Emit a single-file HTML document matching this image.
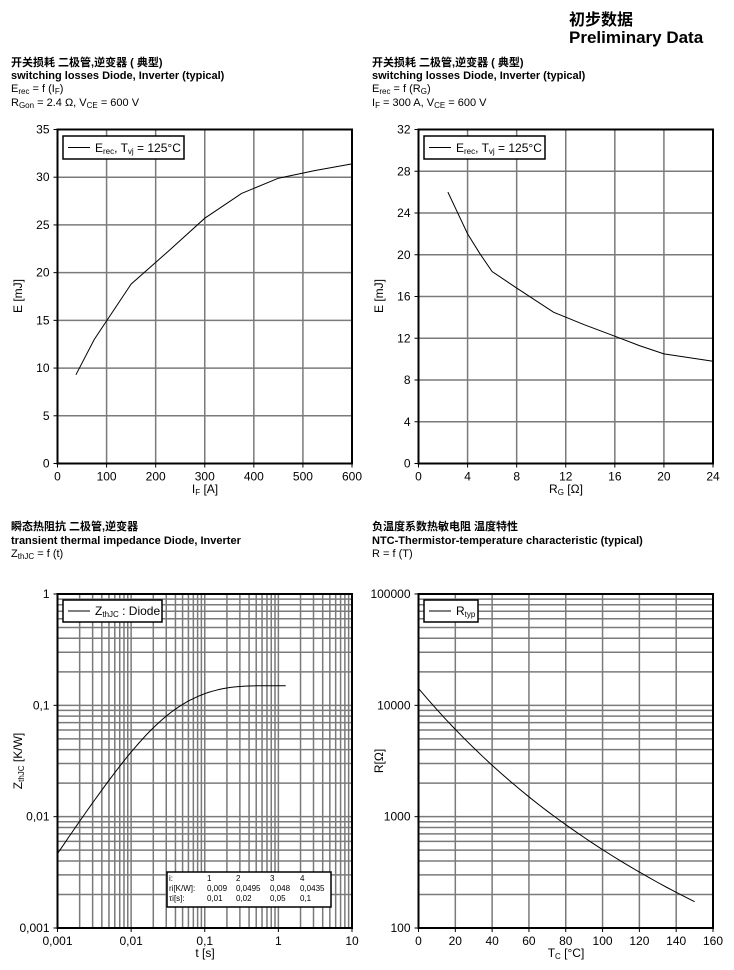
<!DOCTYPE html>
<html><head><meta charset="utf-8">
<style>
html,body{margin:0;padding:0;background:#fff;}
body{width:734px;height:965px;overflow:hidden;}
svg text{font-family:"Liberation Sans","Noto Sans CJK SC",sans-serif;fill:#000;}
</style></head><body>
<svg id="s" width="734" height="965" xmlns="http://www.w3.org/2000/svg">
<text x="569" y="25" font-size="16" font-weight="bold">初步数据</text>
<text x="569" y="43" font-size="17" font-weight="bold">Preliminary Data</text>

<g font-size="11">
<text x="11" y="66" font-weight="bold">开关损耗 二极管,逆变器 ( 典型)</text>
<text x="11" y="79" font-weight="bold">switching losses  Diode, Inverter (typical)</text>
<text x="11" y="92">E<tspan font-size="8" dy="2">rec</tspan><tspan dy="-2"> = f (I</tspan><tspan font-size="8" dy="2">F</tspan><tspan dy="-2">)</tspan></text>
<text x="11" y="106">R<tspan font-size="8" dy="2">Gon</tspan><tspan dy="-2"> = 2.4 Ω, V</tspan><tspan font-size="8" dy="2">CE</tspan><tspan dy="-2"> = 600 V</tspan></text>

<text x="372" y="66" font-weight="bold">开关损耗 二极管,逆变器 ( 典型)</text>
<text x="372" y="79" font-weight="bold">switching losses  Diode, Inverter (typical)</text>
<text x="372" y="92">E<tspan font-size="8" dy="2">rec</tspan><tspan dy="-2"> = f (R</tspan><tspan font-size="8" dy="2">G</tspan><tspan dy="-2">)</tspan></text>
<text x="372" y="106">I<tspan font-size="8" dy="2">F</tspan><tspan dy="-2"> = 300 A, V</tspan><tspan font-size="8" dy="2">CE</tspan><tspan dy="-2"> = 600 V</tspan></text>

<text x="11" y="530" font-weight="bold">瞬态热阻抗 二极管,逆变器</text>
<text x="11" y="544" font-weight="bold">transient thermal impedance  Diode, Inverter</text>
<text x="11" y="557">Z<tspan font-size="8" dy="2">thJC</tspan><tspan dy="-2"> = f (t)</tspan></text>

<text x="372" y="530" font-weight="bold">负温度系数热敏电阻 温度特性</text>
<text x="372" y="544" font-weight="bold">NTC-Thermistor-temperature characteristic (typical)</text>
<text x="372" y="557">R = f (T)</text>
</g>
<g id="g"></g>
</svg>
<script>
var g=document.getElementById('g'),h='';
function L(x1,y1,x2,y2,c,w){h+='<line x1="'+x1+'" y1="'+y1+'" x2="'+x2+'" y2="'+y2+'" stroke="'+c+'" stroke-width="'+w+'"/>';}
function T(x,y,s,a,extra){h+='<text x="'+x+'" y="'+y+'" font-size="12" text-anchor="'+(a||'middle')+'" '+(extra||'')+'>'+s+'</text>';}
function frame(x0,y0,x1,y1){h+='<rect x="'+x0+'" y="'+y0+'" width="'+(x1-x0)+'" height="'+(y1-y0)+'" fill="none" stroke="#000" stroke-width="2"/>';}
function path(pts){h+='<polyline fill="none" stroke="#000" stroke-width="1" points="'+pts.map(p=>p[0].toFixed(1)+','+p[1].toFixed(1)).join(' ')+'"/>';}
var GC='#7a7a7a';
// TL
(function(){var x0=57.5,x1=352,y0=129.5,y1=463.5;
 var X=v=>x0+(x1-x0)*v/600,Y=v=>y1-(y1-y0)*v/35;
 for(var i=1;i<6;i++)L(X(i*100),y0,X(i*100),y1,GC,1.5);
 for(var i=1;i<7;i++)L(x0,Y(i*5),x1,Y(i*5),GC,1.5);
 frame(x0,y0,x1,y1);
 for(var i=0;i<=6;i++){L(X(i*100),y1,X(i*100),y1+4,'#000',1);T(X(i*100),y1+17,i*100);}
 for(var i=0;i<=7;i++){L(x0-4,Y(i*5),x0,Y(i*5),'#000',1);T(x0-8,Y(i*5)+4,i*5,'end');}
 var d=[[37.5,9.3],[75,13],[150,18.8],[225,22.2],[300,25.7],[375,28.3],[450,29.9],[525,30.7],[600,31.4]];
 path(d.map(p=>[X(p[0]),Y(p[1])]));
 T(205,493,'I<tspan font-size="8" dy="2">F</tspan><tspan dy="-2"> [A]</tspan>');
 T(22,296,'E [mJ]','middle','transform="rotate(-90 22 296)"');
 h+='<rect x="63" y="136" width="121" height="23" fill="#fff" stroke="#000" stroke-width="1.5"/>';
 L(68,147.5,90,147.5,'#000',1);
 h+='<text x="95" y="152" font-size="12">E<tspan font-size="8" dy="2">rec</tspan><tspan dy="-2">, T</tspan><tspan font-size="8" dy="2">vj</tspan><tspan dy="-2"> = 125°C</tspan></text>';
})();
// TR
(function(){var x0=418.5,x1=713,y0=129.5,y1=463.5;
 var X=v=>x0+(x1-x0)*v/24,Y=v=>y1-(y1-y0)*v/32;
 for(var i=1;i<6;i++)L(X(i*4),y0,X(i*4),y1,GC,1.5);
 for(var i=1;i<8;i++)L(x0,Y(i*4),x1,Y(i*4),GC,1.5);
 frame(x0,y0,x1,y1);
 for(var i=0;i<=6;i++){L(X(i*4),y1,X(i*4),y1+4,'#000',1);T(X(i*4),y1+17,i*4);}
 for(var i=0;i<=8;i++){L(x0-4,Y(i*4),x0,Y(i*4),'#000',1);T(x0-8,Y(i*4)+4,i*4,'end');}
 var d=[[2.4,26],[3,24.5],[4,22],[5,20.1],[6,18.4],[8,16.8],[11,14.5],[13.5,13.3],[16,12.2],[18,11.3],[20,10.5],[24,9.8]];
 path(d.map(p=>[X(p[0]),Y(p[1])]));
 T(566,493,'R<tspan font-size="8" dy="2">G</tspan><tspan dy="-2"> [Ω]</tspan>');
 T(383,296,'E [mJ]','middle','transform="rotate(-90 383 296)"');
 h+='<rect x="424" y="136" width="121" height="23" fill="#fff" stroke="#000" stroke-width="1.5"/>';
 L(429,147.5,451,147.5,'#000',1);
 h+='<text x="456" y="152" font-size="12">E<tspan font-size="8" dy="2">rec</tspan><tspan dy="-2">, T</tspan><tspan font-size="8" dy="2">vj</tspan><tspan dy="-2"> = 125°C</tspan></text>';
})();
// BL
(function(){var x0=57.5,x1=352,y0=594,y1=928;
 var X=v=>x0+(x1-x0)*(Math.log10(v)+3)/4,Y=v=>y1-(y1-y0)*(Math.log10(v)+3)/3;
 for(var e=-3;e<1;e++)for(var k=1;k<10;k++){var v=k*Math.pow(10,e);if(v>0.001)L(X(v),y0,X(v),y1,GC,1.5);}
 for(var e=-3;e<0;e++)for(var k=1;k<10;k++){var v=k*Math.pow(10,e);if(v>0.001)L(x0,Y(v),x1,Y(v),GC,1.5);}
 frame(x0,y0,x1,y1);
 var xl=['0,001','0,01','0,1','1','10'];
 for(var i=0;i<5;i++){var v=Math.pow(10,i-3);L(X(v),y1,X(v),y1+4,'#000',1);T(X(v),y1+17,xl[i]);}
 var yl=['0,001','0,01','0,1','1'];
 for(var i=0;i<4;i++){var v=Math.pow(10,i-3);L(x0-4,Y(v),x0,Y(v),'#000',1);T(x0-8,Y(v)+4,yl[i],'end');}
 var r=[0.009,0.0495,0.048,0.0435],tau=[0.01,0.02,0.05,0.1],pts=[];
 for(var l=-3;l<=0.1;l+=0.05){var t=Math.pow(10,l),z=0;for(var i=0;i<4;i++)z+=r[i]*(1-Math.exp(-t/tau[i]));pts.push([X(t),Y(z)]);}
 path(pts);
 T(205,957,'t [s]');
 T(22,761,'Z<tspan font-size="8" dy="2">thJC</tspan><tspan dy="-2"> [K/W]</tspan>','middle','transform="rotate(-90 22 761)"');
 h+='<rect x="63" y="600" width="99" height="22" fill="#fff" stroke="#000" stroke-width="1.5"/>';
 L(68,611,90,611,'#000',1);
 h+='<text x="95" y="615" font-size="12">Z<tspan font-size="8" dy="2">thJC</tspan><tspan dy="-2"> : Diode</tspan></text>';
 h+='<rect x="167" y="872" width="164" height="35" fill="#fff" stroke="#000" stroke-width="1.5"/>';
 var rows=[['i:','1','2','3','4'],['ri[K/W]:','0,009','0,0495','0,048','0,0435'],['τi[s]:','0,01','0,02','0,05','0,1']];
 var cx=[169,207,236,270,300];
 for(var j=0;j<3;j++)for(var c=0;c<5;c++)h+='<text x="'+cx[c]+'" y="'+(881+j*10)+'" font-size="8">'+rows[j][c]+'</text>';
})();
// BR
(function(){var x0=418.5,x1=713,y0=594,y1=928;
 var X=v=>x0+(x1-x0)*v/160,Y=v=>y1-(y1-y0)*(Math.log10(v)-2)/3;
 for(var i=1;i<8;i++)L(X(i*20),y0,X(i*20),y1,GC,1.5);
 for(var e=2;e<5;e++)for(var k=1;k<10;k++){var v=k*Math.pow(10,e);if(v>100)L(x0,Y(v),x1,Y(v),GC,1.5);}
 frame(x0,y0,x1,y1);
 for(var i=0;i<=8;i++){L(X(i*20),y1,X(i*20),y1+4,'#000',1);T(X(i*20),y1+17,i*20);}
 var yl=['100','1000','10000','100000'];
 for(var i=0;i<4;i++){var v=Math.pow(10,i+2);L(x0-4,Y(v),x0,Y(v),'#000',1);T(x0-8,Y(v)+4,yl[i],'end');}
 var pts=[];for(var t=0;t<=150;t+=5){var R=5000*Math.exp(3400*(1/(t+273.15)-1/298.15));pts.push([X(t),Y(R)]);}
 path(pts);
 T(566,957,'T<tspan font-size="8" dy="2">C</tspan><tspan dy="-2"> [°C]</tspan>');
 T(383,761,'R[Ω]','middle','transform="rotate(-90 383 761)"');
 h+='<rect x="424" y="600" width="54" height="22" fill="#fff" stroke="#000" stroke-width="1.5"/>';
 L(429,611,451,611,'#000',1);
 h+='<text x="456" y="615" font-size="12">R<tspan font-size="8" dy="2">typ</tspan></text>';
})();
g.innerHTML=h;
</script>
</body></html>
